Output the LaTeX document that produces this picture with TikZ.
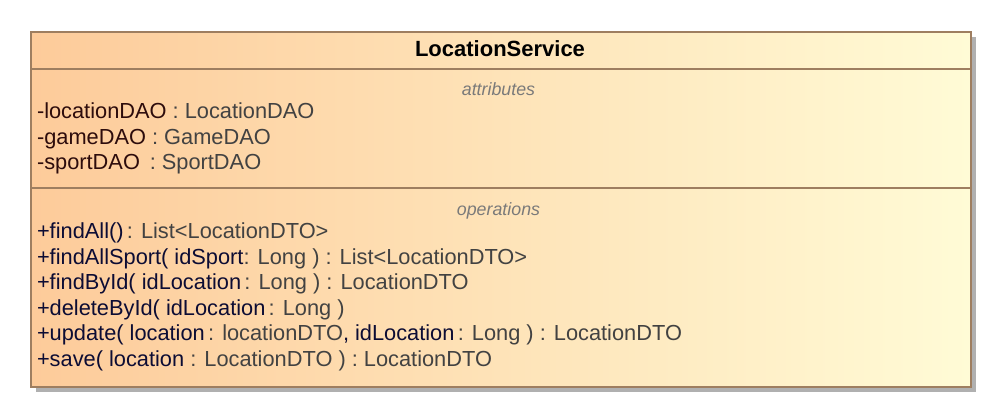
\documentclass[tikz,border=0pt]{standalone}
\usepackage{fontspec}
\setmainfont{Liberation Sans}
\usetikzlibrary{shadows}
\definecolor{attn}{RGB}{45,12,12}
\definecolor{opn}{RGB}{12,12,52}
\definecolor{ty}{RGB}{66,66,66}
\definecolor{lbl}{RGB}{122,122,122}
\definecolor{bord}{RGB}{158,126,96}
\definecolor{shad}{RGB}{176,176,176}
\definecolor{cL}{RGB}{253,203,154}
\definecolor{cR}{RGB}{255,251,214}
\newcommand{\ty}[1]{\textcolor{ty}{#1}}
\begin{document}
\begin{tikzpicture}[x=1pt,y=-1pt,
  member/.style={anchor=base west,inner sep=0pt,outer sep=0pt,font=\fontsize{21.8}{25}\selectfont},
  seclabel/.style={anchor=base,inner sep=0pt,font=\fontsize{17.8}{20}\selectfont\itshape,text=lbl},
  divider/.style={draw=bord,line width=1.3pt}]
\useasboundingbox (0,0) rectangle (997,418);
\node[draw=bord,line width=1.3pt,left color=cL,right color=cR,
      minimum width=940pt,minimum height=355pt,anchor=north west,inner sep=0pt,outer sep=0pt,
      drop shadow={shadow xshift=5pt,shadow yshift=-5pt,fill=shad,opacity=1}] (cls) at (31,32) {};
\coordinate (d1) at (0,69);
\coordinate (d2) at (0,188);
\draw[divider] (cls.west |- d1) -- (cls.east |- d1);
\draw[divider] (cls.west |- d2) -- (cls.east |- d2);
\node[anchor=base,inner sep=0pt,font=\fontsize{22}{25}\selectfont\bfseries] (name) at (500,56) {LocationService};
\node[seclabel] (attrlbl) at (498.5,95) {attributes};
\node[member,text=attn] (a1) at (37,118.5) {-locationDAO \ty{: LocationDAO}};
\node[member,text=attn] (a2) at (37,144) {-gameDAO \ty{: GameDAO}};
\node[member,text=attn] (a3) at (37,169.5) {-sportDAO\hspace{0.45em}\ty{: SportDAO}};
\node[seclabel] (oplbl) at (498.5,215) {operations};
\node[member,text=opn] (o1) at (37,238.5) {+findAll()\hspace{0.15em}\ty{: List<LocationDTO>}};
\node[member,text=opn] (o2) at (37,264) {+findAllSport( idSport\ty{: Long ) : List<LocationDTO>}};
\node[member,text=opn] (o3) at (37,289.5) {+findById( idLocation\hspace{0.15em}\ty{: Long ) : LocationDTO}};
\node[member,text=opn] (o4) at (37,315) {+deleteById( idLocation\hspace{0.15em}\ty{: Long )}};
\node[member,text=opn] (o5) at (37,340.5) {+update( location\hspace{0.15em}\ty{: locationDTO}, idLocation\hspace{0.15em}\ty{: Long ) : LocationDTO}};
\node[member,text=opn] (o6) at (37,366) {+save( location \ty{: LocationDTO ) : LocationDTO}};
\end{tikzpicture}
\end{document}
